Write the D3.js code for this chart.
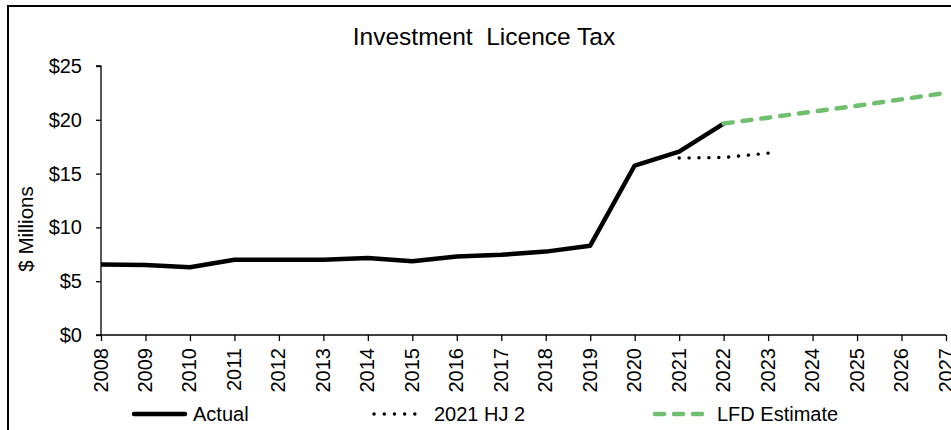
<!DOCTYPE html>
<html>
<head>
<meta charset="utf-8">
<script src="https://cdn.jsdelivr.net/npm/d3@7"></script>
<style>
body { margin: 0; background: #fff; }
text { font-family: "Liberation Sans", Arial, sans-serif; fill: #000; }
</style>
</head>
<body>
<svg id="chart" width="951" height="430"></svg>
<script>
const years = ["2008","2009","2010","2011","2012","2013","2014","2015","2016","2017","2018","2019","2020","2021","2022","2023","2024","2025","2026","2027"];
const actualYears = ["2008","2009","2010","2011","2012","2013","2014","2015","2016","2017","2018","2019","2020","2021","2022"];
const actualValues = [6.55, 6.5, 6.3, 7.0, 7.0, 7.0, 7.15, 6.85, 7.3, 7.45, 7.75, 8.3, 15.75, 17.05, 19.65];
const hjYears = ["2021","2022","2023"];
const hjValues = [16.45, 16.5, 16.9];
const lfdYears = ["2022","2023","2024","2025","2026","2027"];
const lfdValues = [19.65, 20.2, 20.75, 21.3, 21.9, 22.5];
const yTicks = [0, 5, 10, 15, 20, 25];
const title = "Investment\u00a0\u00a0Licence Tax";
const yLabel = "$ Millions";
const legendLabels = ["Actual", "2021 HJ 2", "LFD Estimate"];

const FONT = '"Liberation Sans", Arial, sans-serif';
const svg = d3.select("#chart");
// outer border
svg.append("rect").attr("x", 8).attr("y", 6).attr("width", 960).attr("height", 440)
  .attr("fill", "none").attr("stroke", "#000").attr("stroke-width", 2);

const x = d3.scalePoint().domain(years).range([101, 946]);
const y = d3.scaleLinear().domain([0, 25]).range([335, 66]);

// title
svg.append("text").attr("x", 484).attr("y", 45).attr("text-anchor", "middle")
  .attr("font-size", 24.5).text(title);

// y axis
const yAxis = svg.append("g").attr("transform", "translate(101,0)")
  .call(d3.axisLeft(y).tickValues(yTicks).tickSize(5).tickPadding(14).tickFormat(d => "$" + d));
yAxis.selectAll("path,line").attr("stroke", "#000").attr("stroke-width", 1.3);
yAxis.select(".domain").attr("d", "M-5,66H0V335H-5");
yAxis.selectAll("text").attr("font-size", 20).style("font-family", FONT);

svg.append("text").attr("transform", "translate(33,229) rotate(-90)")
  .attr("text-anchor", "middle").attr("font-size", 20.5).text(yLabel);

// x axis
const xAxis = svg.append("g").attr("transform", "translate(0,335)")
  .call(d3.axisBottom(x).tickSize(6).tickSizeOuter(0).tickPadding(8));
xAxis.selectAll("path,line").attr("stroke", "#000").attr("stroke-width", 1.3);
xAxis.select(".domain").attr("d", "M101,0H946");
xAxis.selectAll("text").attr("font-size", 20)
  .style("font-family", FONT)
  .attr("transform", "rotate(-90)").attr("text-anchor", "end")
  .attr("x", -13).attr("y", -1).attr("dy", "0.35em");

const line = d3.line().x(d => x(d[0])).y(d => y(d[1]));

svg.append("path").datum(actualYears.map((d, i) => [d, actualValues[i]]))
  .attr("d", line).attr("fill", "none").attr("stroke", "#000").attr("stroke-width", 4.5)
  .attr("stroke-linejoin", "round");
svg.append("path").datum(hjYears.map((d, i) => [d, hjValues[i]]))
  .attr("d", line).attr("fill", "none").attr("stroke", "#000").attr("stroke-width", 3.4)
  .attr("stroke-linecap", "round").attr("stroke-dasharray", "0.1,9.8");
svg.append("path").datum(lfdYears.map((d, i) => [d, lfdValues[i]]))
  .attr("d", line).attr("fill", "none").attr("stroke", "#70bf70").attr("stroke-width", 4.5)
  .attr("stroke-linecap", "round").attr("stroke-dasharray", "9,10");

// legend
const legendItems = [
  {x1: 134, x2: 185, tx: 193, stroke: "#000", dash: null, w: 4.5},
  {x1: 374, x2: 425, tx: 434, stroke: "#000", dash: "0.1,10.1", w: 3.4},
  {x1: 655, x2: 703, tx: 717, stroke: "#70bf70", dash: "9,10", w: 4.5}
];
legendItems.forEach((it, i) => {
  const l = svg.append("line").attr("x1", it.x1).attr("x2", it.x2).attr("y1", 414).attr("y2", 414)
    .attr("stroke", it.stroke).attr("stroke-width", it.w).attr("stroke-linecap", "round");
  if (it.dash) l.attr("stroke-dasharray", it.dash);
  svg.append("text").attr("x", it.tx).attr("y", 421).attr("font-size", 20).text(legendLabels[i]);
});
</script>
</body>
</html>
